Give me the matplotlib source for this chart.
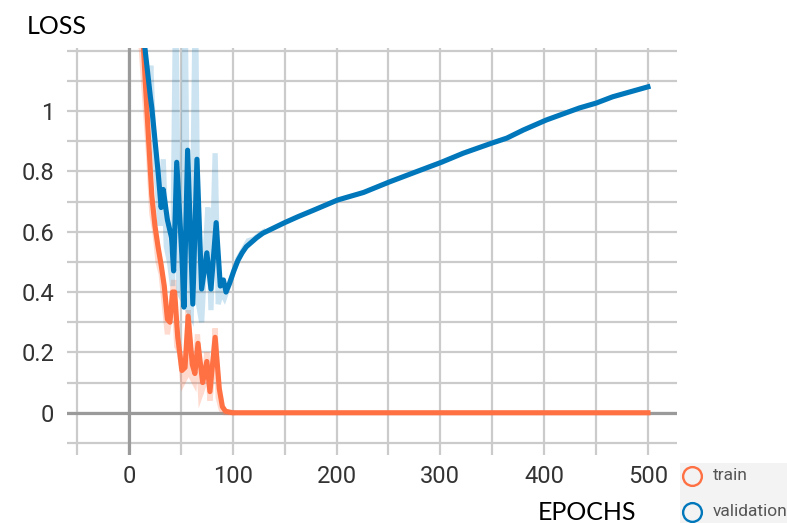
import matplotlib
matplotlib.use("Agg")
import matplotlib.pyplot as plt
from matplotlib.lines import Line2D
from matplotlib.patches import Rectangle
from matplotlib.ticker import FixedLocator, FuncFormatter

# ---------------- data ----------------
train_epochs = [13.5, 16, 19, 22, 25, 28, 31, 34, 37, 39.5, 42, 44, 47, 51, 54, 57,
                61, 63.5, 66.5, 71, 75, 78, 83, 87, 90, 93, 97, 100, 500]
train_loss = [1.24, 1.08, 0.90, 0.72, 0.62, 0.55, 0.49, 0.42, 0.31, 0.30, 0.40, 0.40,
              0.25, 0.14, 0.15, 0.32, 0.16, 0.13, 0.23, 0.10, 0.17, 0.07, 0.25, 0.08,
              0.02, 0.005, 0.002, 0.0, 0.0]

train_raw_epochs = [10, 13, 16, 19, 22, 25, 28, 31, 34, 37, 40, 43, 46, 49, 52, 55, 57,
                    60, 63, 66, 69, 72, 75, 78, 81, 83, 86, 89, 92, 100]
train_raw_loss = [1.30, 1.15, 1.00, 0.85, 0.66, 0.60, 0.50, 0.46, 0.36, 0.26, 0.33, 0.44,
                  0.22, 0.20, 0.10, 0.12, 0.34, 0.12, 0.10, 0.26, 0.06, 0.09, 0.20, 0.04,
                  0.14, 0.28, 0.05, 0.01, 0.0, 0.0]

val_epochs = [14, 20.5, 22, 24, 28, 31, 33, 37, 41, 43, 46, 51, 53, 56.5, 61.5, 65.5,
              70, 75, 79, 84, 88, 91, 93.5, 97, 101, 105, 109, 113, 118, 123, 129, 138,
              150, 163, 177, 201, 226, 251, 274, 301, 322, 350, 364, 380, 402, 434, 450,
              466, 500]
val_loss = [1.25, 1.05, 1.01, 0.94, 0.80, 0.68, 0.74, 0.64, 0.58, 0.47, 0.83, 0.52,
            0.35, 0.87, 0.36, 0.84, 0.41, 0.53, 0.41, 0.63, 0.42, 0.44, 0.40, 0.43,
            0.47, 0.505, 0.53, 0.55, 0.565, 0.58, 0.595, 0.61, 0.63, 0.65, 0.67, 0.705,
            0.73, 0.765, 0.795, 0.83, 0.86, 0.894, 0.91, 0.937, 0.97, 1.01, 1.026, 1.047,
            1.08]

val_raw_epochs = [12, 15, 18, 21, 24, 27, 30, 33, 36, 39, 42, 45, 48, 51, 54, 57, 60,
                  64, 67, 70, 73, 76, 79, 83, 86, 89, 92, 96, 100, 105, 110, 115, 120, 130]
val_raw_loss = [1.30, 1.20, 1.00, 1.15, 0.90, 0.75, 0.62, 0.84, 0.55, 0.50, 0.42, 1.40,
                0.40, 0.38, 1.40, 0.34, 0.32, 1.40, 0.36, 0.30, 0.50, 0.68, 0.34, 0.86,
                0.36, 0.40, 0.38, 0.42, 0.46, 0.51, 0.54, 0.57, 0.575, 0.60]

x_ticks = [-50, 0, 50, 100, 150, 200, 250, 300, 350, 400, 450, 500]
x_labels = {0: "0", 100: "100", 200: "200", 300: "300", 400: "400", 500: "500"}
y_ticks = [-0.1, 0, 0.1, 0.2, 0.3, 0.4, 0.5, 0.6, 0.7, 0.8, 0.9, 1.0, 1.1, 1.2]
y_labels = {0: "0", 2: "0.2", 4: "0.4", 6: "0.6", 8: "0.8", 10: "1"}

TRAIN = "#ff7043"
VAL = "#0077bb"

# ---------------- figure ----------------
fig = plt.figure(figsize=(7.87, 5.23), dpi=100)
ax = fig.add_axes([66.7 / 787, 68 / 523, (677 - 66.7) / 787, (455 - 47.6) / 523])

ax.set_xlim(-60, 528)
ax.set_ylim(-0.14, 1.21)

for s in ax.spines.values():
    s.set_visible(False)

ax.xaxis.set_major_locator(FixedLocator(x_ticks))
ax.yaxis.set_major_locator(FixedLocator(y_ticks))
ax.xaxis.set_major_formatter(FuncFormatter(lambda v, p: x_labels.get(int(round(v)), "")))
ax.yaxis.set_major_formatter(FuncFormatter(lambda v, p: y_labels.get(int(round(v * 10)), "")))
ax.tick_params(length=0, labelsize=17, colors="#333333")
ax.tick_params(axis="y", pad=9)
ax.tick_params(axis="x", pad=7)
for lab in ax.get_xticklabels() + ax.get_yticklabels():
    lab.set_family("Roboto")

ax.grid(True, color="#cbcbcb", linewidth=1.6, zorder=0)
ax.set_axisbelow(True)
ax.axhline(0, color="#9a9a9a", linewidth=2.3, zorder=1)
ax.axvline(0, color="#9a9a9a", linewidth=2.3, zorder=1)

# raw (faint) series
ax.plot(train_raw_epochs, train_raw_loss, color=TRAIN, alpha=0.25, linewidth=3.8,
        solid_joinstyle="miter", zorder=2)
ax.plot(val_raw_epochs, val_raw_loss, color=VAL, alpha=0.2, linewidth=3.8,
        solid_joinstyle="miter", zorder=2)
# smoothed series
ax.plot(train_epochs, train_loss, color=TRAIN, linewidth=3.7, zorder=3)
ax.plot(val_epochs, val_loss, color=VAL, linewidth=3.7, zorder=4)

# axis titles
fig.text(27 / 787, 1 - 34 / 523, "LOSS", fontsize=18, family="Lato", color="black",
         va="baseline", ha="left")
fig.text(538 / 787, 1 - 520 / 523, "EPOCHS", fontsize=18, family="Lato", color="black",
         va="baseline", ha="left")

# legend
fig.add_artist(Rectangle((680 / 787, 0), 107 / 787, (523 - 463) / 523,
                         transform=fig.transFigure, facecolor="#f3f3f3",
                         edgecolor="none", zorder=0))
for (ypx, col, txt) in [(476, TRAIN, "train"), (512, VAL, "validation")]:
    fig.add_artist(Line2D([692 / 787], [1 - ypx / 523], marker="o", markersize=13.5,
                          markerfacecolor="none", markeredgecolor=col,
                          markeredgewidth=1.7, linestyle="none",
                          transform=fig.transFigure))
    fig.text(713 / 787, 1 - ypx / 523, txt, fontsize=12.5, family="Roboto",
             color="#555555", va="center", ha="left")

fig.savefig("out.png", dpi=100)
